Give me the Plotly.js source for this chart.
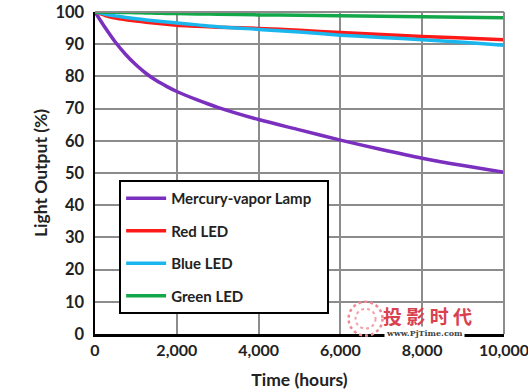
<!DOCTYPE html>
<html>
<head>
<meta charset="utf-8">
<script src="https://cdn.plot.ly/plotly-3.0.1.min.js"></script>
<style>html,body{margin:0;padding:0;background:#fff;}#chart{width:528px;height:390px;}</style>
</head>
<body>
<div id="chart"></div>
<script>
const hours = [0, 250, 500, 750, 1000, 1250, 1500, 1750, 2000, 2500, 3000, 4000, 5000, 6000, 7000, 8000, 9000, 10000];
const mercury = [100, 95.1, 90.6, 86.8, 83.6, 80.9, 78.7, 76.9, 75.3, 72.7, 70.4, 66.6, 63.4, 60.2, 57.3, 54.6, 52.3, 50.2];
const redLed = [100, 98.9, 98.1, 97.6, 97.2, 96.85, 96.5, 96.2, 95.9, 95.6, 95.3, 94.9, 94.3, 93.6, 93.0, 92.4, 91.9, 91.4];
const blueLed = [100, 99.3, 98.8, 98.3, 97.9, 97.55, 97.2, 96.9, 96.6, 96.0, 95.4, 94.6, 93.8, 92.8, 92.1, 91.4, 90.6, 89.7];
const greenLed = [100, 99.95, 99.9, 99.85, 99.8, 99.72, 99.65, 99.57, 99.5, 99.4, 99.3, 99.1, 99.0, 98.8, 98.65, 98.5, 98.35, 98.2];
const seriesNames = ['Mercury-vapor Lamp\u00a0\u00a0\u00a0', 'Red LED', 'Blue LED', 'Green LED'];
const seriesColors = ['#7b2fbe', '#ff1a1a', '#19b7ee', '#12a84a'];
const yTicks = [0, 10, 20, 30, 40, 50, 60, 70, 80, 90, 100];
const xTicks = [0, 2000, 4000, 6000, 8000, 10000];
const xTickLabels = ['0', '2,000', '4,000', '6,000', '8,000', '10,000'];

const data = [mercury, redLed, blueLed, greenLed].map((ys, i) => ({
  x: hours, y: ys, type: 'scatter', mode: 'lines', name: seriesNames[i],
  line: {color: seriesColors[i], width: 3.5, shape: 'spline', smoothing: 0.8},
  legendgroup: 'g' + i
}));

const fam = 'Lato, "Open Sans", sans-serif';
const layout = {
  width: 528, height: 390,
  margin: {l: 95, r: 24, t: 12, b: 56},
  paper_bgcolor: '#fff', plot_bgcolor: '#fff',
  font: {family: fam, size: 13, color: '#222'},
  showlegend: true,
  legend: {
    x: 0.059, y: 0.478, xanchor: 'left', yanchor: 'top',
    bgcolor: '#fff', bordercolor: '#000', borderwidth: 2,
    font: {family: fam, size: 15, color: '#222', weight: 'bold'},
    traceorder: 'grouped', tracegroupgap: 10, itemwidth: 40
  },
  xaxis: {
    range: [0, 10000], tickvals: xTicks, ticktext: xTickLabels,
    showgrid: true, gridcolor: '#8c8c8c', gridwidth: 2,
    showline: true, linecolor: '#000', linewidth: 2.5, mirror: false,
    zeroline: false, ticks: '', ticklen: 0, ticklabeloverflow: 'allow',
    tickfont: {family: fam, size: 16, color: '#222', weight: 'bold'},
    title: {text: 'Time (hours)', standoff: 19, font: {family: fam, size: 17.5, color: '#222', weight: 'bold'}}
  },
  yaxis: {
    range: [0, 100], tickvals: yTicks,
    showgrid: true, gridcolor: '#8c8c8c', gridwidth: 2,
    showline: true, linecolor: '#000', linewidth: 2.5,
    zeroline: false, ticks: '', ticklen: 0, ticklabelstandoff: 5, ticklabeloverflow: 'allow',
    tickfont: {family: fam, size: 16.5, color: '#222', weight: 'bold'},
    title: {text: 'Light Output (%)', standoff: 4, font: {family: fam, size: 17.5, color: '#222', weight: 'bold'}}
  },
  shapes: [
    {type: 'line', xref: 'paper', yref: 'paper', x0: 1, x1: 1, y0: 0, y1: 1, line: {color: '#8c8c8c', width: 2}},
    {type: 'line', xref: 'paper', yref: 'paper', x0: 0, x1: 1, y0: 1, y1: 1, line: {color: '#8c8c8c', width: 2}},
    {type: 'circle', xref: 'paper', yref: 'paper', x0: 0.620, x1: 0.703, y0: -0.005, y1: 0.100,
     line: {color: '#ee8a94', width: 2.5, dash: 'dot'}},
    {type: 'circle', xref: 'paper', yref: 'paper', x0: 0.637, x1: 0.686, y0: 0.017, y1: 0.078,
     line: {color: '#f2a3aa', width: 2, dash: 'dot'}}
  ],
  annotations: [
    {xref: 'paper', yref: 'paper', x: 0.812, y: 0.059, xanchor: 'center', yanchor: 'middle', showarrow: false,
     text: '投 影 时 代', font: {family: '"Noto Sans CJK SC", sans-serif', size: 19, color: '#d9414f', weight: 'bold'}},
    {xref: 'paper', yref: 'paper', x: 0.805, y: 0.003, xanchor: 'center', yanchor: 'middle', showarrow: false,
     bgcolor: '#fff', text: 'www.PjTime.com', font: {family: '"DejaVu Serif", serif', size: 8, color: '#444', weight: 'bold'}}
  ]
};
Plotly.newPlot('chart', data, layout, {displayModeBar: false, staticPlot: true});
</script>
</body>
</html>
